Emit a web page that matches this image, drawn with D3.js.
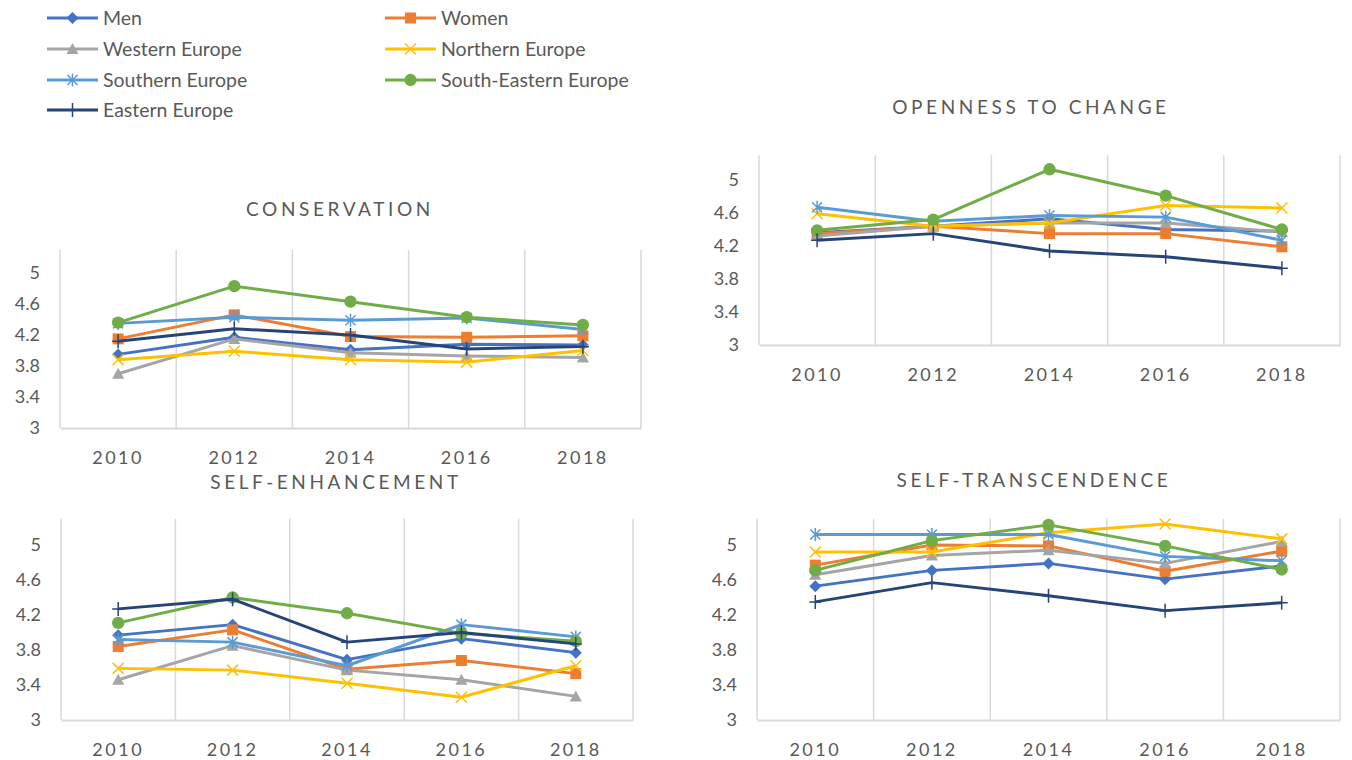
<!DOCTYPE html>
<html>
<head>
<meta charset="utf-8">
<script src="https://cdn.jsdelivr.net/npm/d3@7"></script>
<style>
  body { margin: 0; background: #fff; }
  svg { font-family: Lato, "Open Sans", sans-serif; }
</style>
</head>
<body>
<svg id="svg" width="1352" height="760"></svg>
<script>
// data
const years = ["2010", "2012", "2014", "2016", "2018"];
const seriesNames = ["Men", "Women", "Western Europe", "Northern Europe", "Southern Europe", "South-Eastern Europe", "Eastern Europe"];
const yTicks = [3, 3.4, 3.8, 4.2, 4.6, 5];

// one row per series, same order as seriesNames
const conservation = [
  [3.95, 4.17, 4.01, 4.08, 4.07],
  [4.15, 4.46, 4.18, 4.17, 4.19],
  [3.70, 4.15, 3.97, 3.93, 3.91],
  [3.88, 3.99, 3.88, 3.85, 4.00],
  [4.35, 4.43, 4.39, 4.42, 4.27],
  [4.36, 4.83, 4.63, 4.43, 4.33],
  [4.12, 4.28, 4.20, 4.02, 4.05]
];
const openness = [
  [4.36, 4.44, 4.53, 4.40, 4.38],
  [4.35, 4.44, 4.35, 4.35, 4.19],
  [4.32, 4.44, 4.48, 4.48, 4.37],
  [4.59, 4.44, 4.48, 4.69, 4.66],
  [4.67, 4.50, 4.57, 4.55, 4.27],
  [4.39, 4.52, 5.13, 4.81, 4.40],
  [4.27, 4.35, 4.14, 4.07, 3.93]
];
const selfEnhancement = [
  [3.97, 4.09, 3.69, 3.93, 3.77],
  [3.84, 4.03, 3.58, 3.68, 3.53],
  [3.46, 3.85, 3.57, 3.46, 3.27],
  [3.59, 3.57, 3.42, 3.26, 3.62],
  [3.92, 3.89, 3.62, 4.09, 3.95],
  [4.11, 4.40, 4.22, 3.99, 3.90],
  [4.27, 4.38, 3.89, 4.00, 3.87]
];
const selfTranscendence = [
  [4.53, 4.71, 4.79, 4.61, 4.76],
  [4.77, 5.00, 4.99, 4.70, 4.93],
  [4.66, 4.88, 4.94, 4.79, 5.04],
  [4.92, 4.92, 5.14, 5.24, 5.07],
  [5.12, 5.12, 5.12, 4.87, 4.82],
  [4.71, 5.05, 5.23, 4.99, 4.72],
  [4.35, 4.57, 4.42, 4.25, 4.34]
];

const colors = ["#4472C4", "#ED7D31", "#A5A5A5", "#FFC000", "#5B9BD5", "#70AD47", "#264478"];
const markers = ["diamond", "square", "triangle", "cross", "star", "circle", "plus"];
const textColor = "#595959";
const gridColor = "#D9D9D9";

var svg = d3.select("#svg");

// marker path, centred on 0,0
var markerPath = function(type) {
  var s = 6;
  if (type === "diamond") return "M0," + (-s) + "L" + s + ",0L0," + s + "L" + (-s) + ",0Z";
  if (type === "square") return "M-5.5,-5.5h11v11h-11Z";
  if (type === "triangle") return "M0,-6L6,5L-6,5Z";
  if (type === "cross") return "M-5.5,-5.5L5.5,5.5M5.5,-5.5L-5.5,5.5";
  if (type === "star") return "M-5,-5L5,5M5,-5L-5,5M0,-6.5V6.5";
  if (type === "plus") return "M-6,0H6M0,-7V7";
  return d3.symbol(d3.symbolCircle, 120)();
};
var strokeOnly = t => t === "cross" || t === "star" || t === "plus";

var drawMarker = function(g, type, color, x, y) {
  g.append("path")
      .attr("d", markerPath(type))
      .attr("transform", "translate(" + x + "," + y + ")")
      .attr("fill", strokeOnly(type) ? "none" : color)
      .attr("stroke", color)
      .attr("stroke-width", strokeOnly(type) ? 1.5 : 0);
};

// legend
var legendPos = [[47, 18], [385, 18], [47, 49], [385, 49], [47, 80], [385, 80], [47, 110]];
seriesNames.forEach(function(name, i) {
  var g = svg.append("g").attr("transform", "translate(" + legendPos[i][0] + "," + legendPos[i][1] + ")");
  g.append("line")
      .attr("x1", 0).attr("x2", 51)
      .attr("stroke", colors[i])
      .attr("stroke-width", 3);
  drawMarker(g, markers[i], colors[i], 25.5, 0);
  g.append("text")
      .attr("x", 56)
      .attr("dy", "0.35em")
      .attr("fill", textColor)
      .style("font-size", "19.5px")
      .text(name);
});

var panel = function(title, values, box) {
  var x = d3.scaleBand()
    .domain(years)
    .range([box.left, box.right]);

  var y = d3.scaleLinear()
    .domain([3, 5.3])
    .range([box.y3, box.y3 - 2.3 * (box.y3 - box.y5) / 2]);

  var g = svg.append("g");

  g.append("text")
      .attr("x", box.titleX)
      .attr("y", box.titleY)
      .attr("dy", "0.35em")
      .attr("text-anchor", "middle")
      .attr("fill", textColor)
      .style("font-size", "19px")
      .style("letter-spacing", "3.6px")
      .text(title);

  // vertical gridlines on band edges
  g.selectAll(".grid")
    .data(years.map(d => x(d)).concat([box.right]))
    .join("line")
      .attr("x1", d => d).attr("x2", d => d)
      .attr("y1", y(5.3)).attr("y2", y(3))
      .attr("stroke", gridColor)
      .attr("stroke-width", 1.5);

  var xAxis = g.append("g")
      .attr("transform", "translate(0," + y(3) + ")")
      .call(d3.axisBottom(x).tickSize(0).tickSizeOuter(0).tickPadding(23));
  xAxis.select(".domain").attr("stroke", gridColor).attr("stroke-width", 2);
  xAxis.selectAll("text")
      .attr("fill", textColor)
      .style("font-size", "18px")
      .style("font-family", "Lato, sans-serif")
      .style("letter-spacing", "2.5px");

  var yAxis = g.append("g")
      .attr("transform", "translate(" + box.left + ",0)")
      .call(d3.axisLeft(y).tickValues(yTicks).tickFormat(d3.format("")).tickSize(0).tickPadding(20));
  yAxis.select(".domain").remove();
  yAxis.selectAll("text")
      .attr("fill", textColor)
      .style("font-size", "18px")
      .style("font-family", "Lato, sans-serif");

  var cx = d => x(d) + x.bandwidth() / 2;
  var line = d3.line()
    .x((d, j) => cx(years[j]))
    .y(d => y(d));

  values.forEach(function(row, i) {
    g.append("path")
        .datum(row)
        .attr("d", line)
        .attr("fill", "none")
        .attr("stroke", colors[i])
        .attr("stroke-width", 3)
        .attr("stroke-linejoin", "round");
    row.forEach(function(v, j) {
      drawMarker(g, markers[i], colors[i], cx(years[j]), y(v));
    });
  });
};

panel("CONSERVATION", conservation, {left: 60, right: 641, y3: 428, y5: 273, titleX: 340, titleY: 209});
panel("OPENNESS TO CHANGE", openness, {left: 759, right: 1340, y3: 345, y5: 180, titleX: 1031, titleY: 107});
panel("SELF-ENHANCEMENT", selfEnhancement, {left: 61, right: 633, y3: 720, y5: 545, titleX: 336, titleY: 482});
panel("SELF-TRANSCENDENCE", selfTranscendence, {left: 757, right: 1340, y3: 720, y5: 545, titleX: 1034, titleY: 480});
</script>
</body>
</html>
